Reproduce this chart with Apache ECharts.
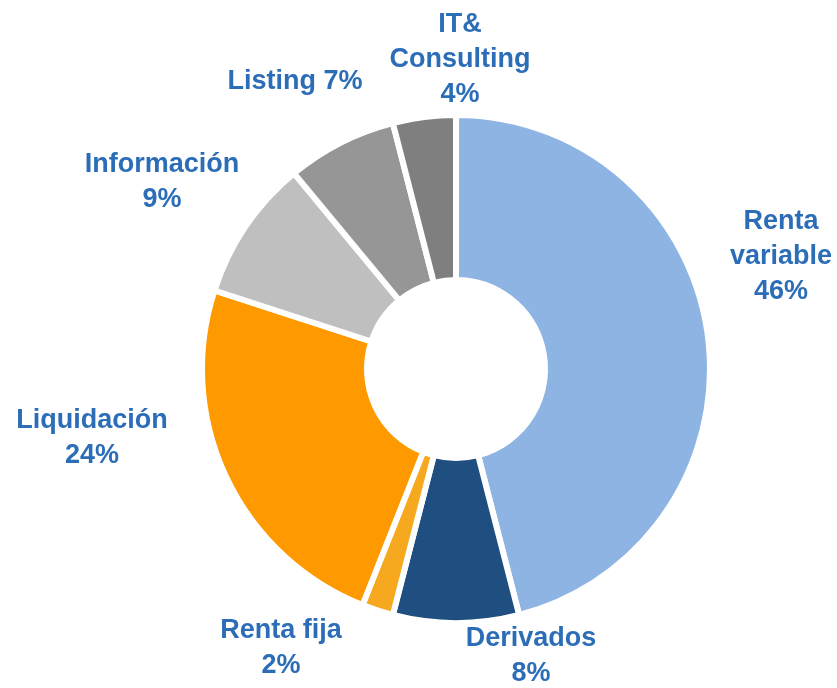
<!DOCTYPE html>
<html>
<head>
<meta charset="utf-8">
<script src="https://cdn.jsdelivr.net/npm/echarts@6/dist/echarts.min.js"></script>
<style>
html, body { margin: 0; padding: 0; background: #fff; }
#chart { width: 837px; height: 688px; }
</style>
</head>
<body>
<div id="chart"></div>
<script>
// slices, clockwise from 12 o'clock
var categories = ['Renta variable', 'Derivados', 'Renta fija', 'Liquidación', 'Información', 'Listing', 'IT& Consulting'];
var values = [46, 8, 2, 24, 9, 7, 4];
var colors = ['#8DB4E2', '#1F4E80', '#F6A81E', '#FF9900', '#BFBFBF', '#969696', '#7F7F7F'];

// how each label breaks into lines
var labelText = [
    'Renta\nvariable\n46%',
    'Derivados\n8%',
    'Renta fija\n2%',
    'Liquidación\n24%',
    'Información\n9%',
    'Listing 7%',
    'IT&\nConsulting\n4%'
];
// label centres (layout only)
var labelPos = [
    [781, 257], [531, 656], [281, 648], [92, 438], [162, 182], [295, 82], [460, 60]
];

var chart = echarts.init(document.getElementById('chart'));

var seriesData = categories.map(function (name, i) {
    return {
        name: name,
        value: values[i],
        itemStyle: { color: colors[i] }
    };
});

var option = {
    animation: false,
    series: [{
        type: 'pie',
        center: [456, 369],
        radius: [89, 254],
        startAngle: 90,
        clockwise: true,
        avoidLabelOverlap: false,
        itemStyle: {
            borderColor: '#fff',
            borderWidth: 6
        },
        label: {
            show: true,
            position: 'outside',
            color: '#2C6DB8',
            fontFamily: 'Liberation Sans, Arial, sans-serif',
            fontWeight: 'bold',
            fontSize: 27,
            lineHeight: 35,
            align: 'center',
            formatter: function (p) {
                return labelText[p.dataIndex];
            }
        },
        labelLine: { show: false },
        labelLayout: function (p) {
            var pos = labelPos[p.dataIndex];
            return {
                x: pos[0],
                y: pos[1],
                align: 'center',
                verticalAlign: 'middle'
            };
        },
        data: seriesData
    }]
};

chart.setOption(option);
</script>
</body>
</html>
